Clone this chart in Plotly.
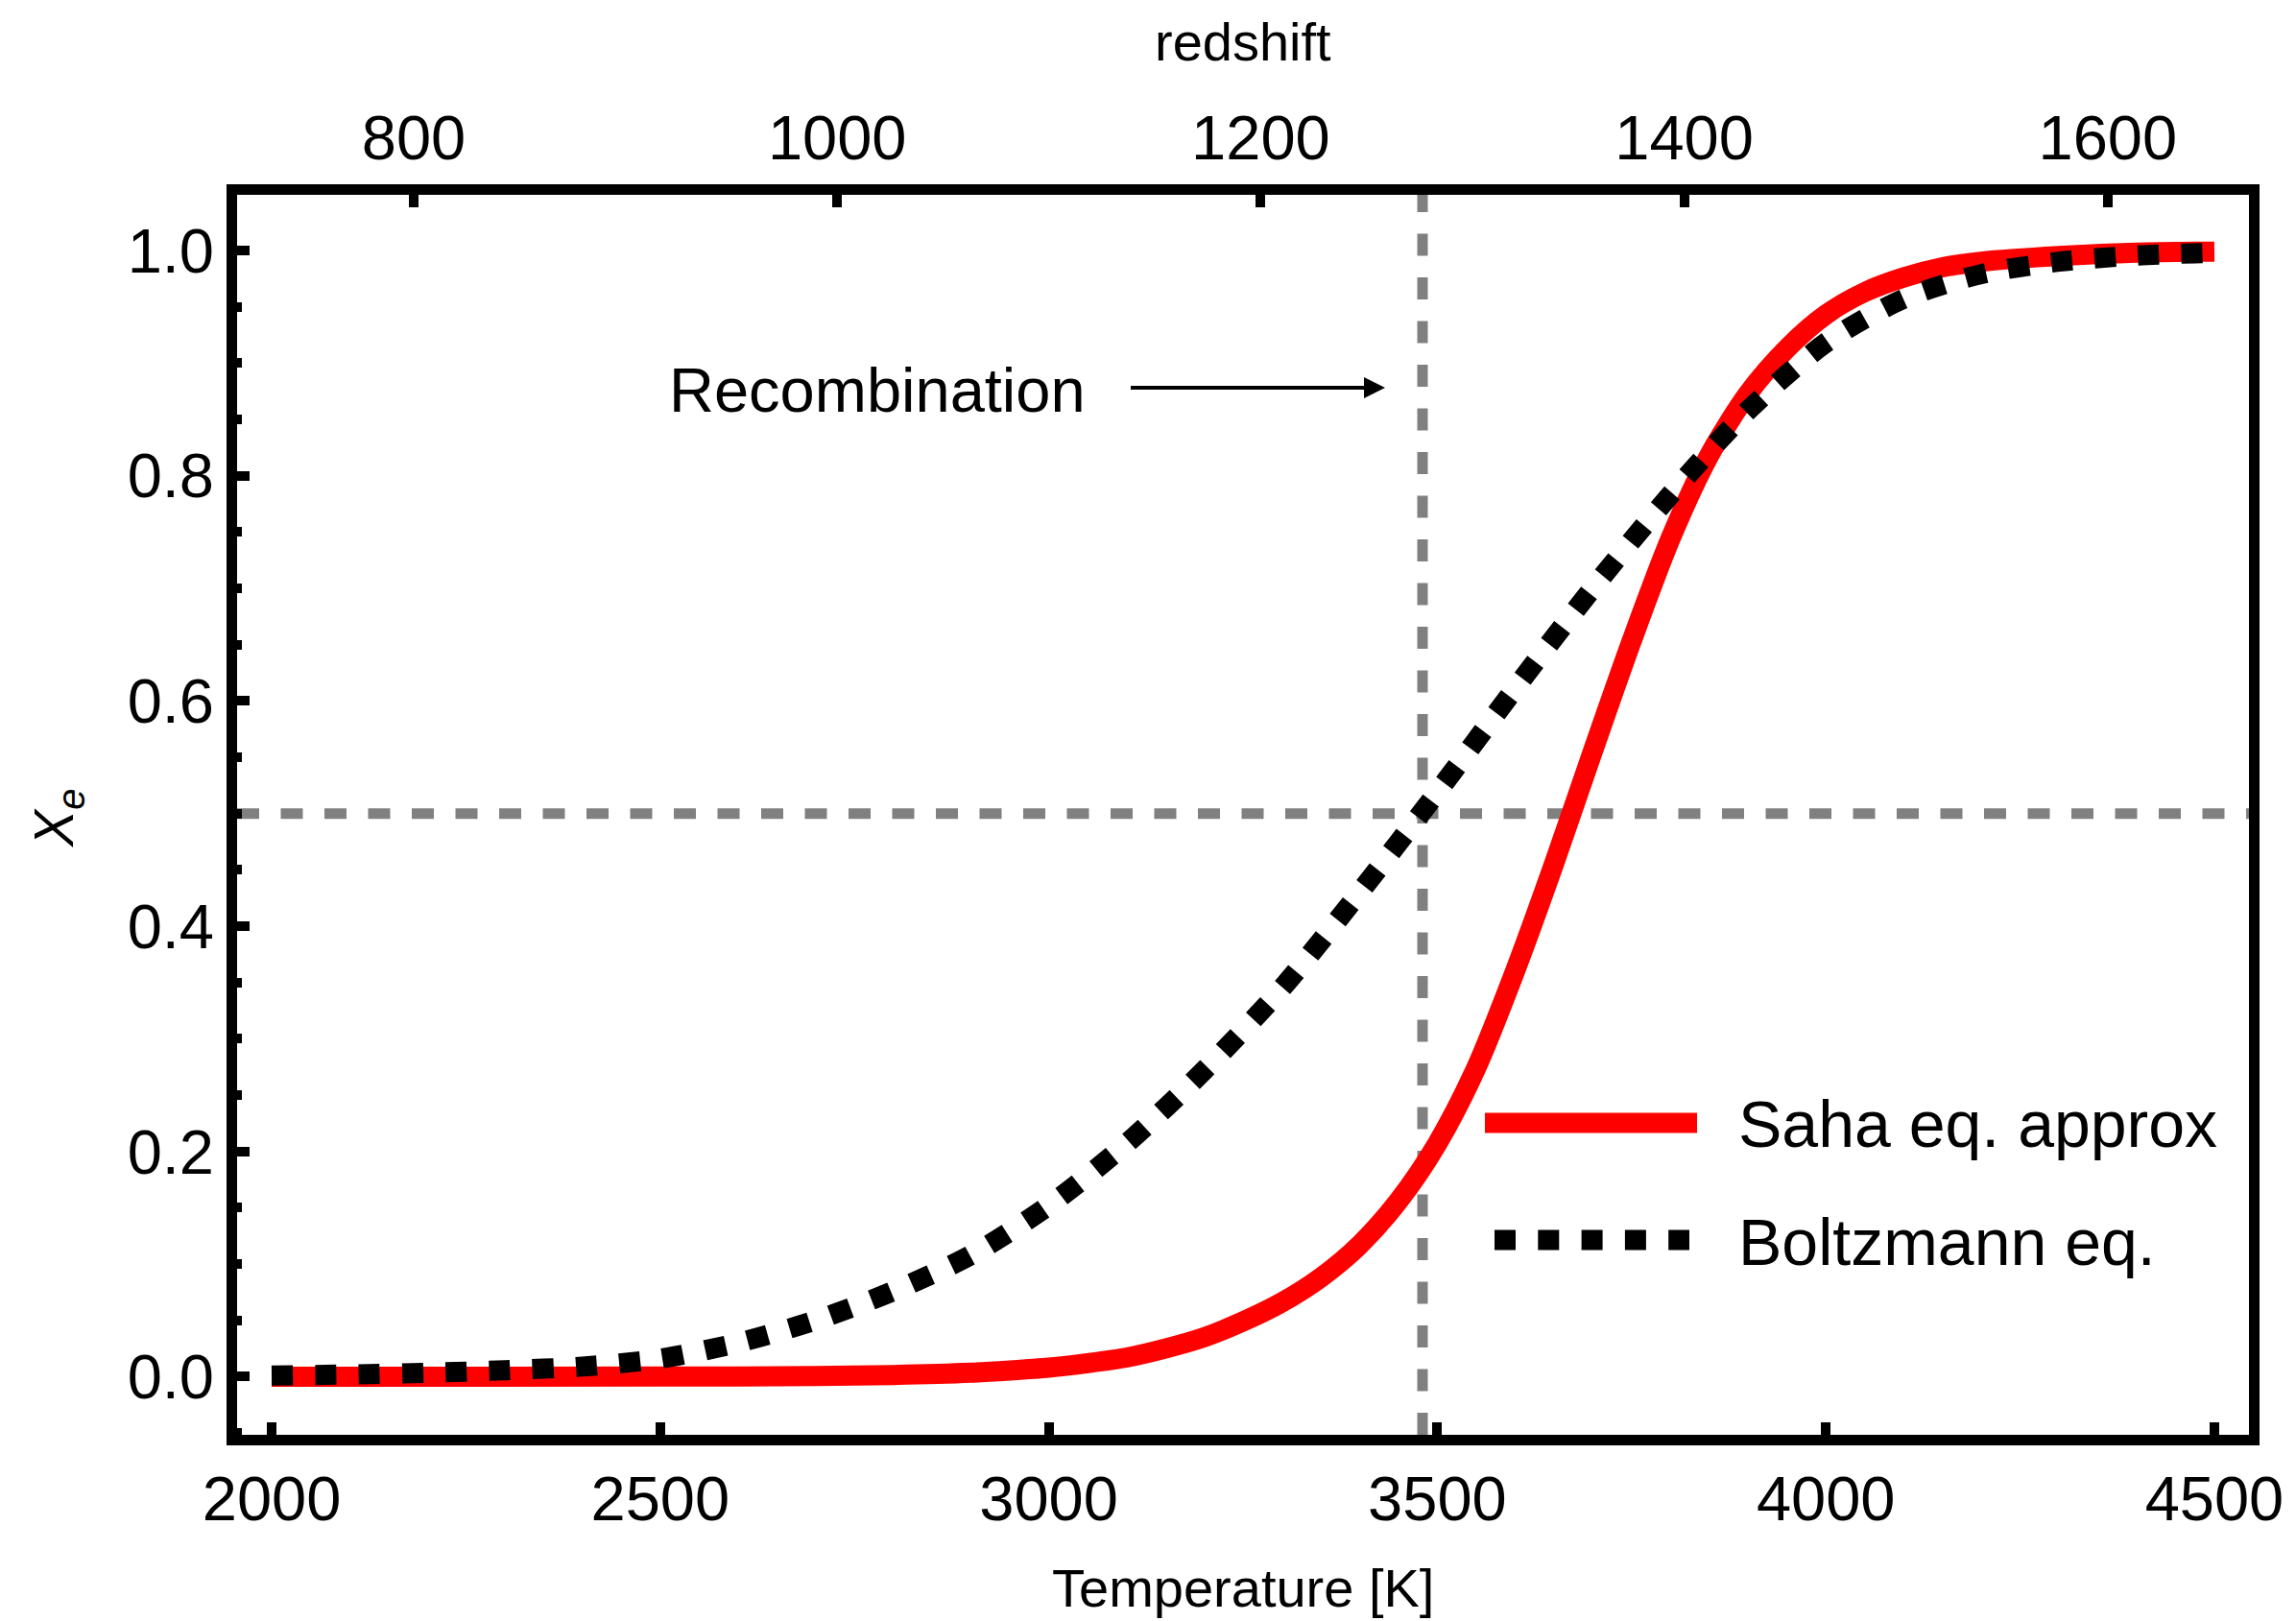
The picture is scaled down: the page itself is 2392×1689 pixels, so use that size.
import plotly.graph_objects as go

# ---------------- data ----------------
T_saha = [2000, 2500, 2600, 2700, 2800, 2900, 2950, 3000, 3050, 3100, 3150, 3200, 3250,
          3300, 3350, 3400, 3450, 3500, 3550, 3600, 3650, 3700, 3750, 3800, 3850,
          3900, 3950, 4000, 4050, 4100, 4150, 4200, 4300, 4400, 4500]
xe_saha = [0.0, 0.0001, 0.0002, 0.0006, 0.0015, 0.0035, 0.0055, 0.008, 0.012, 0.017, 0.025, 0.035, 0.049,
           0.066, 0.088, 0.117, 0.156, 0.207, 0.274, 0.36, 0.455, 0.555, 0.653, 0.744, 0.818,
           0.873, 0.913, 0.943, 0.963, 0.976, 0.985, 0.99, 0.995, 0.998, 0.999]

T_boltz = [2000, 2100, 2200, 2300, 2400, 2500, 2600, 2700, 2800, 2900, 3000, 3100, 3200,
           3300, 3400, 3500, 3600, 3700, 3800, 3900, 4000, 4100, 4200, 4300, 4400, 4500]
xe_boltz = [0.001, 0.002, 0.0035, 0.0057, 0.009, 0.016, 0.03, 0.05, 0.076, 0.108, 0.152, 0.207, 0.272,
            0.345, 0.43, 0.519, 0.611, 0.70, 0.783, 0.858, 0.918, 0.957, 0.979, 0.99, 0.9955, 0.998]

T_recomb = 3481          # vertical dashed line
xe_half = 0.5            # horizontal dashed line
T_cmb = 2.725            # T = T_cmb * (1 + z)

x_ticks = [2000, 2500, 3000, 3500, 4000, 4500]
z_ticks = [800, 1000, 1200, 1400, 1600]
y_ticks = [0.0, 0.2, 0.4, 0.6, 0.8, 1.0]
y_ticklabels = ["0.0", "0.2", "0.4", "0.6", "0.8", "1.0"]

label_saha = "Saha eq. approx"
label_boltz = "Boltzmann eq."

# ---------------- styling ----------------
W, H = 2392, 1689
ML, MR, MT, MB = 247, 49, 203, 194
PW, PH = W - ML - MR, H - MT - MB
FONT = "Liberation Sans, Arial, Helvetica, sans-serif"
TICK_FS = 65
LEG_FS = 68
TITLE_FS = 56

x_range = [1955.5, 4544.5]
y_range = [-0.0516, 1.0494]
z_range = [x_range[0] / T_cmb - 1, x_range[1] / T_cmb - 1]


def px_x(p):
    return (p - ML) / PW


def px_y(p):
    return (H - MB - p) / PH


fig = go.Figure()

fig.add_trace(go.Scatter(
    x=T_saha, y=xe_saha, mode="lines", name=label_saha,
    line=dict(color="#ff0000", width=21, shape="spline", smoothing=0.8),
    showlegend=False, hoverinfo="skip"))

fig.add_trace(go.Scatter(
    x=T_boltz, y=xe_boltz, mode="lines", name=label_boltz,
    line=dict(color="#000000", width=21, dash="22px,23.3px", shape="spline", smoothing=0.8),
    showlegend=False, hoverinfo="skip"))

# invisible trace to activate the top (redshift) axis
fig.add_trace(go.Scatter(x=[z_range[0]], y=[0.5], xaxis="x2", mode="markers",
                         marker=dict(opacity=0), showlegend=False, hoverinfo="skip"))

grey = "#808080"
fig.add_shape(type="line", xref="x", yref="paper", x0=T_recomb, x1=T_recomb, y0=0, y1=1,
              line=dict(color=grey, width=11, dash="23px,22.5px"), layer="below")
fig.add_shape(type="line", xref="paper", yref="y", x0=0, x1=1, y0=xe_half, y1=xe_half,
              line=dict(color=grey, width=11, dash="23px,22.5px"), layer="below")

# manual legend
fig.add_shape(type="line", xref="paper", yref="paper",
              x0=px_x(1547), x1=px_x(1768), y0=px_y(1170), y1=px_y(1170),
              line=dict(color="#ff0000", width=21))
fig.add_shape(type="line", xref="paper", yref="paper",
              x0=px_x(1557), x1=px_x(1760), y0=px_y(1292), y1=px_y(1292),
              line=dict(color="#000000", width=21, dash="22px,23.3px"))
fig.add_annotation(xref="paper", yref="paper", x=px_x(1809), y=px_y(1171),
                   xanchor="left", yanchor="middle", text=label_saha, showarrow=False,
                   font=dict(family=FONT, size=LEG_FS, color="black"))
fig.add_annotation(xref="paper", yref="paper", x=px_x(1809), y=px_y(1294),
                   xanchor="left", yanchor="middle", text=label_boltz, showarrow=False,
                   font=dict(family=FONT, size=LEG_FS, color="black"))

# Recombination annotation
fig.add_annotation(xref="paper", yref="paper", x=px_x(695), y=px_y(406),
                   xanchor="left", yanchor="middle", text="Recombination", showarrow=False,
                   font=dict(family=FONT, size=TICK_FS, color="black"))
fig.add_annotation(xref="paper", yref="paper", x=px_x(1443), y=px_y(404), text=" ",
                   showarrow=True, ax=-268, ay=0, arrowhead=2, arrowsize=1.1,
                   arrowwidth=4, arrowcolor="black", standoff=0)

# axis titles
fig.add_annotation(xref="paper", yref="paper", x=0.5, y=px_y(44), text="redshift",
                   showarrow=False, xanchor="center", yanchor="middle",
                   font=dict(family=FONT, size=TITLE_FS, color="black"))
fig.add_annotation(xref="paper", yref="paper", x=0.5, y=px_y(1654), text="Temperature [K]",
                   showarrow=False, xanchor="center", yanchor="middle",
                   font=dict(family=FONT, size=TITLE_FS, color="black"))
fig.add_annotation(xref="paper", yref="paper", x=px_x(60), y=0.497,
                   text="<i>X</i><sub><i>e</i></sub>", textangle=-90,
                   showarrow=False, xanchor="center", yanchor="middle",
                   font=dict(family=FONT, size=TITLE_FS + 1, color="black"))

axis_common = dict(showgrid=False, zeroline=False, showline=True, linewidth=11,
                   linecolor="black", ticks="inside", ticklen=13, tickwidth=10,
                   tickcolor="black",
                   tickfont=dict(family=FONT, size=TICK_FS, color="black"))

fig.update_layout(
    width=W, height=H, autosize=False,
    margin=dict(l=ML, r=MR, t=MT, b=MB, pad=0),
    paper_bgcolor="white", plot_bgcolor="white",
    xaxis=dict(range=x_range, tickmode="array", tickvals=x_ticks, mirror=True,
               **axis_common),
    xaxis2=dict(range=z_range, overlaying="x", side="top", tickmode="array",
                tickvals=z_ticks, **axis_common),
    yaxis=dict(range=y_range, tickmode="array", tickvals=y_ticks, ticktext=y_ticklabels,
               mirror=True,
               minor=dict(dtick=0.05, tick0=0, ticks="inside", ticklen=5, tickwidth=10,
                          tickcolor="black", showgrid=False),
               **axis_common),
)

fig.write_html("out.html")
